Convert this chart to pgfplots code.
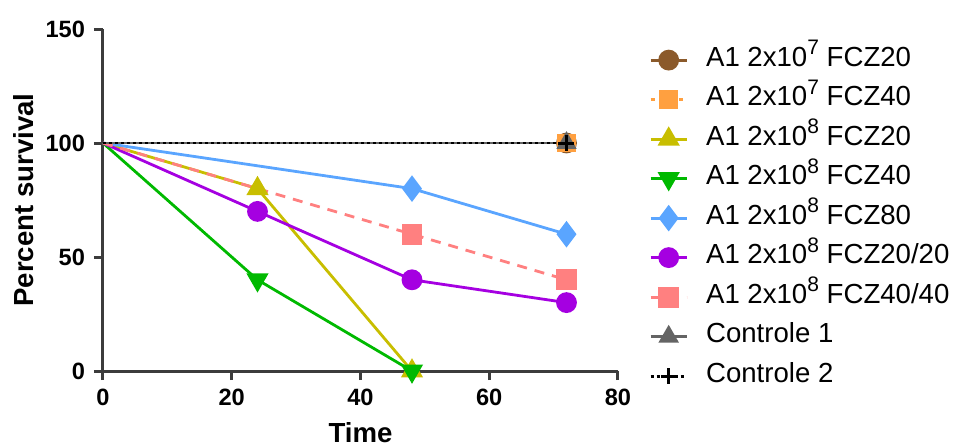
\documentclass[border=0pt]{standalone}
\usepackage{pgfplots}
\pgfplotsset{compat=1.18}
\usepackage{fontspec}
\setmainfont{Liberation Sans}
\definecolor{cbrown}{RGB}{139,90,43}
\definecolor{corange}{RGB}{255,160,64}
\definecolor{cyellow}{RGB}{200,190,0}
\definecolor{cgreen}{RGB}{0,185,0}
\definecolor{cblue}{RGB}{90,165,255}
\definecolor{cpurple}{RGB}{165,0,225}
\definecolor{cpink}{RGB}{255,128,128}
\definecolor{cgray}{RGB}{100,100,100}
\definecolor{caxis}{RGB}{60,60,60}
\newcommand{\supx}[1]{\raisebox{0.42em}{\fontsize{10.5}{10.5}\selectfont #1}}
\begin{document}
\begin{tikzpicture}
\begin{axis}[
  scale only axis,
  width=257.5pt, height=171pt,
  xmin=0, xmax=80, ymin=0, ymax=150,
  xtick={0,20,40,60,80}, ytick={0,50,100,150},
  axis lines=left,
  axis line style={-, caxis, line width=1.5pt},
  tick style={caxis, line width=1.5pt},
  tick align=outside,
  major tick length=4.5pt,
  clip=false,
  /pgf/number format/assume math mode=true,
  tick label style={font=\bfseries\fontsize{11.8}{12}\selectfont},
  xticklabel style={yshift=-1pt},
  yticklabel style={xshift=-1pt},
  label style={font=\bfseries\fontsize{13.8}{14}\selectfont},
  xlabel={Time},
  ylabel={Percent survival},
  xlabel style={at={(axis description cs:0.5,-0.181)}, anchor=center},
  ylabel style={at={(axis description cs:-0.155,0.5)}, anchor=center, rotate=0},
  legend style={draw=none, fill=none, inner sep=0pt, at={(axis description cs:1.06,0.968)}, anchor=north west,
    font=\fontsize{13.8}{14}\selectfont, row sep=0pt,
    nodes={inner sep=0pt, text height=13pt, text depth=6.75pt},
    /tikz/every odd column/.append style={column sep=9pt}},
  legend cell align=left,
  legend image code/.code={\draw[mark indices={2}] plot coordinates {(0pt,0pt)(9pt,0pt)(18pt,0pt)};},
]
\coordinate (O) at (axis cs:0,0);
\addplot[cbrown, line width=1.4pt, mark=*, mark size=4.5pt, mark options={solid, fill=cbrown}, mark indices={2}]
  coordinates {(0,100) (72,100)};
\addlegendentry{A1 2x10\supx{7} FCZ20}
\addplot[corange, line width=1.4pt, dash pattern=on 2pt off 5pt, mark=square*, mark size=4pt, mark options={solid, fill=corange}, mark indices={2}]
  coordinates {(0,100) (72,100)};
\addlegendentry{A1 2x10\supx{7} FCZ40}
\addplot[cyellow, line width=1.4pt, mark=triangle*, mark size=5pt, mark options={solid, fill=cyellow}, mark indices={2,3}]
  coordinates {(0,100) (24,80) (48,0)};
\addlegendentry{A1 2x10\supx{8} FCZ20}
\addplot[cgreen, line width=1.4pt, mark=triangle*, mark size=5pt, mark options={solid, fill=cgreen, rotate=180}, mark indices={2,3}]
  coordinates {(0,100) (24,40) (48,0)};
\addlegendentry{A1 2x10\supx{8} FCZ40}
\addplot[cblue, line width=1.4pt, mark=diamond*, mark size=5.5pt, mark options={solid, fill=cblue}, mark indices={2,3}]
  coordinates {(0,100) (48,80) (72,60)};
\addlegendentry{A1 2x10\supx{8} FCZ80}
\addplot[cpurple, line width=1.4pt, mark=*, mark size=4.5pt, mark options={solid, fill=cpurple}, mark indices={2,3,4}]
  coordinates {(0,100) (24,70) (48,40) (72,30)};
\addlegendentry{A1 2x10\supx{8} FCZ20/20}
\addplot[cpink, line width=1.4pt, dash pattern=on 5pt off 4pt, mark=square*, mark size=4.5pt, mark options={solid, fill=cpink}, mark indices={2,3}]
  coordinates {(0,100) (48,60) (72,40)};
\addlegendentry{A1 2x10\supx{8} FCZ40/40}
\addplot[cgray, line width=1.4pt, mark=triangle*, mark size=4.5pt, mark options={solid, fill=cgray}, mark indices={2}]
  coordinates {(0,100) (72,100)};
\addlegendentry{Controle 1}
\addplot[black, line width=1.4pt, dash pattern=on 1.5pt off 1.5pt, mark=+, mark size=4pt, mark options={solid, line width=1.5pt}, mark indices={2}]
  coordinates {(0,100) (72,100)};
\addlegendentry{Controle 2}
\end{axis}
\pgfresetboundingbox
\path (O) ++(-51.5pt,-37.5pt) rectangle ++(478.5pt,223pt);
\end{tikzpicture}
\end{document}
